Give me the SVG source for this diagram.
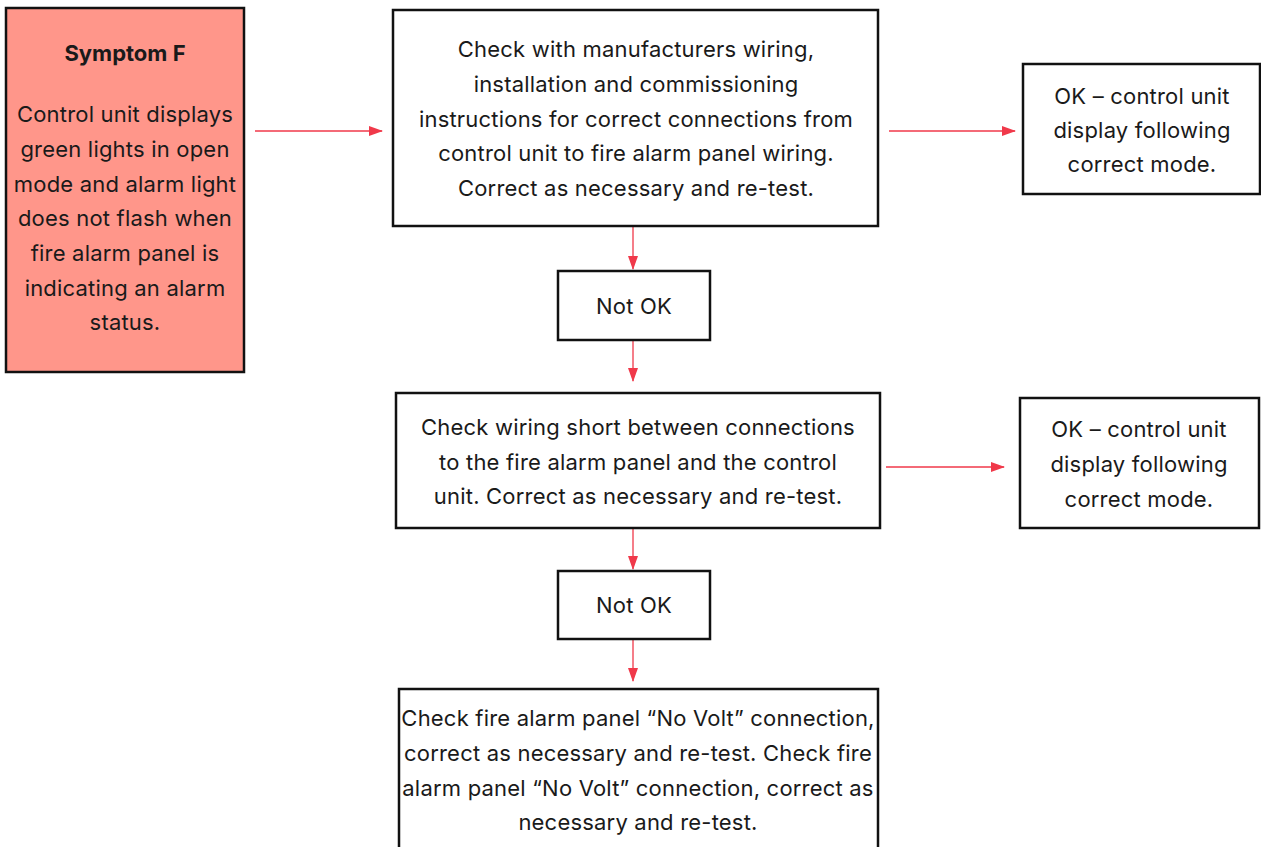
<svg xmlns="http://www.w3.org/2000/svg" width="1261" height="847" viewBox="0 0 1261 847">
<style>
.box{fill:#fff;stroke:#111;stroke-width:2.5}
.sym{fill:#FF968A;stroke:#111;stroke-width:2.5}
text{font-family:"Inter","Liberation Sans",sans-serif;font-size:22px;letter-spacing:0.2px;fill:#1a1a1a;text-anchor:middle}
.b{font-weight:bold;letter-spacing:0}
.c{stroke:#F0394A;stroke-width:1.3;fill:none;marker-end:url(#ah)}
</style>
<defs>
<marker id="ah" markerWidth="14" markerHeight="10" refX="13" refY="5" orient="auto" markerUnits="userSpaceOnUse">
<path d="M0,0 L14,5 L0,10 Z" fill="#F0394A"/>
</marker>
</defs>
<rect width="1261" height="847" fill="#fff"/>
<g id="connectors">
<line class="c" x1="255" y1="131" x2="382" y2="131"/>
<line class="c" x1="889" y1="131" x2="1015" y2="131"/>
<line class="c" x1="633" y1="227" x2="633" y2="269"/>
<line class="c" x1="633" y1="341" x2="633" y2="381"/>
<line class="c" x1="886" y1="467" x2="1004" y2="467"/>
<line class="c" x1="633" y1="529" x2="633" y2="569"/>
<line class="c" x1="633" y1="640" x2="633" y2="681"/>
</g>
<g id="symptom">
<rect class="sym" x="6" y="8" width="238" height="364"/>
<text class="b" x="125" y="61">Symptom F</text>
<text x="125" y="122">Control unit displays</text>
<text x="125" y="157">green lights in open</text>
<text x="125" y="192">mode and alarm light</text>
<text x="125" y="226">does not flash when</text>
<text x="125" y="261">fire alarm panel is</text>
<text x="125" y="296">indicating an alarm</text>
<text x="125" y="330">status.</text>
</g>
<g id="check1">
<rect class="box" x="393" y="10" width="485" height="216"/>
<text x="636" y="57">Check with manufacturers wiring,</text>
<text x="636" y="92">installation and commissioning</text>
<text x="636" y="127">instructions for correct connections from</text>
<text x="636" y="161">control unit to fire alarm panel wiring.</text>
<text x="636" y="196">Correct as necessary and re-test.</text>
</g>
<g id="ok1">
<rect class="box" x="1023" y="64" width="237" height="130"/>
<text x="1142" y="104">OK – control unit</text>
<text x="1142" y="138">display following</text>
<text x="1142" y="172">correct mode.</text>
</g>
<g id="notok1">
<rect class="box" x="558" y="271" width="152" height="69"/>
<text x="634" y="314">Not OK</text>
</g>
<g id="check2">
<rect class="box" x="396" y="393" width="484" height="135"/>
<text x="638" y="435">Check wiring short between connections</text>
<text x="638" y="470">to the fire alarm panel and the control</text>
<text x="638" y="504">unit. Correct as necessary and re-test.</text>
</g>
<g id="ok2">
<rect class="box" x="1020" y="398" width="239" height="130"/>
<text x="1139" y="437">OK – control unit</text>
<text x="1139" y="472">display following</text>
<text x="1139" y="507">correct mode.</text>
</g>
<g id="notok2">
<rect class="box" x="558" y="571" width="152" height="68"/>
<text x="634" y="613">Not OK</text>
</g>
<g id="check3">
<rect class="box" x="399" y="689" width="479" height="170"/>
<text x="638" y="726">Check fire alarm panel “No Volt” connection,</text>
<text x="638" y="761">correct as necessary and re-test. Check fire</text>
<text x="638" y="796">alarm panel “No Volt” connection, correct as</text>
<text x="638" y="830">necessary and re-test.</text>
</g>
</svg>
